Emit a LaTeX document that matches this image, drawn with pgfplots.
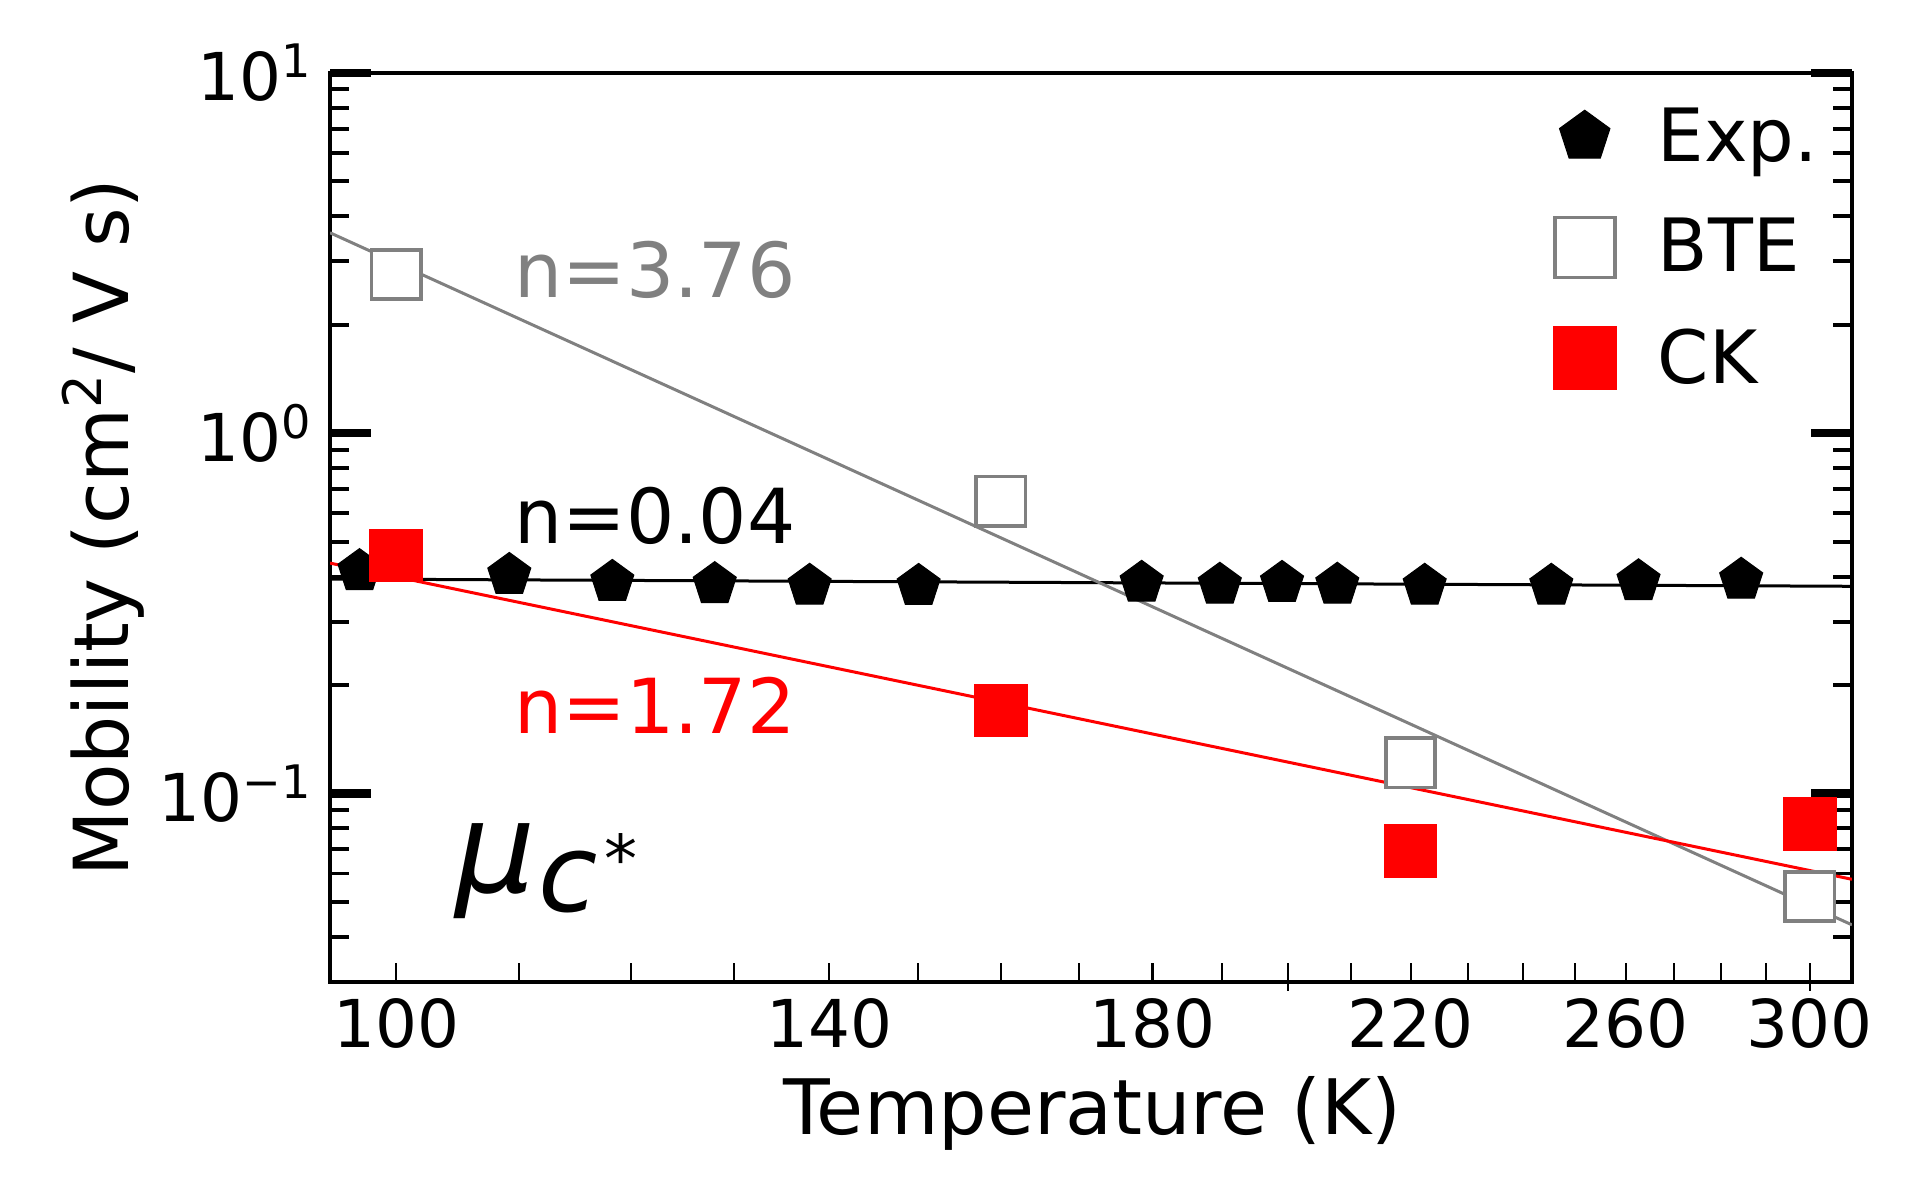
\documentclass[border=0pt]{standalone}
\usepackage{fontspec}
\setmainfont{DejaVu Sans}
\usepackage{pgfplots}
\usepackage{pgfplotstable}
\pgfplotsset{compat=1.18}
\newcommand\fs[1]{\fontsize{#1}{#1}\selectfont}

\pgfplotstableread{
T mu
97.2 0.414
109.2 0.404
118.3 0.3865
128.1 0.381
137.9 0.377
150.1 0.3767
178.5 0.3842
189.7 0.3795
199.1 0.384
207.8 0.3795
222.4 0.377
245.4 0.377
262.6 0.388
284.4 0.3918
}\expdata
\pgfplotstableread{
T mu
100 2.76
160 0.648
220 0.1216
300 0.0517
}\btedata
\pgfplotstableread{
T mu
100 0.457
160 0.170
220 0.0692
300 0.0822
}\ckdata

\begin{document}
\begin{tikzpicture}
\begin{axis}[
  xmode=log, ymode=log,
  scale only axis, width=507.3pt, height=303pt,
  xmin=95, xmax=310, ymin=0.03, ymax=10,
  xtick={100,140,180,220,260,300},
  xticklabels={100,140,180,220,260,300},
  minor xtick={100,110,120,130,140,150,160,170,180,190,200,210,220,230,240,250,260,270,280,290,300},
  ytick={0.1,1,10},
  yticklabels={10\textsuperscript{−1},10\textsuperscript{0},10\textsuperscript{1}},
  minor ytick={0.04,0.05,0.06,0.07,0.08,0.09,0.2,0.3,0.4,0.5,0.6,0.7,0.8,0.9,2,3,4,5,6,7,8,9},
  tick align=inside,
  xtick pos=left, ytick pos=both, yticklabel pos=left,
  major tick length=13.7pt, minor tick length=6.5pt,
  every tick/.append style={black},
  every major x tick/.append style={draw=none},
  every minor x tick/.append style={line width=0.7pt, black},
  every major y tick/.append style={line width=2.7pt, black},
  every minor y tick/.append style={line width=1.3pt, black},
  extra x ticks={200,300}, extra x tick labels={},
  extra x tick style={tick align=outside, major tick length=3pt,
     every major x tick/.style={line width=0.7pt, draw=black}},
  axis line style={line width=1.1pt, black},
  xticklabel style={font=\fs{22}, inner sep=0pt, yshift=-5.3pt},
  yticklabel style={font=\fs{22}, inner sep=0pt, xshift=-5.7pt},
  xlabel={Temperature (K)},
  xlabel style={font=\fs{25.5}, at={(axis description cs:0.501,-0.1683)}, anchor=base, inner sep=0pt},
  ylabel={Mobility (cm\textsuperscript{2}/ V s)},
  ylabel style={font=\fs{25.3}, at={(axis description cs:-0.1327,0.5)}, anchor=base, inner sep=0pt},
  legend style={draw=none, fill=none, at={(axis description cs:0.8035,0.9624)}, anchor=north west,
     font=\fs{24.5}, inner sep=0pt, nodes={inner sep=0pt},
     row sep={36.9pt,between origins},
     /tikz/every odd column/.append style={column sep=14pt}},
  legend cell align=left,
  legend image code/.code={\draw[#1] plot coordinates {(0pt,0pt)};},
]
\addlegendimage{only marks, mark=pentagon*, mark size=8.8pt, black, mark options={line width=0.4pt}}
\addlegendentry{Exp.}
\addlegendimage{only marks, mark=square*, mark size=10pt, mark options={draw=gray, fill=white, line width=1.2pt}}
\addlegendentry{BTE}
\addlegendimage{only marks, mark=square*, mark size=10.4pt, mark options={draw=red, fill=red, line width=0.4pt}}
\addlegendentry{CK}

\addplot[forget plot, only marks, mark=pentagon*, mark size=7.5pt, black, mark options={line width=0.4pt}] table[x=T,y=mu] {\expdata};
\addplot[forget plot, black, line width=1pt] coordinates {(95,0.394) (310,0.376)};
\addplot[forget plot, gray, line width=1pt] coordinates {(95,3.6) (310,0.0432)};
\addplot[forget plot, only marks, mark=square*, mark size=8.2pt, mark options={draw=gray, fill=white, line width=1.3pt}] table[x=T,y=mu] {\btedata};
\addplot[forget plot, only marks, mark=square*, mark size=8.7pt, mark options={draw=red, fill=red, line width=0.4pt}] table[x=T,y=mu] {\ckdata};
\addplot[forget plot, red, line width=1pt] coordinates {(95,0.436) (310,0.0578)};

\node[anchor=base west, inner sep=0pt, text=gray, font=\fs{25.3}] at (rel axis cs:0.121,0.7529) {n=3.76};
\node[anchor=base west, inner sep=0pt, text=black, font=\fs{25.3}] at (rel axis cs:0.121,0.4826) {n=0.04};
\node[anchor=base west, inner sep=0pt, text=red, font=\fs{25.3}] at (rel axis cs:0.121,0.2736) {n=1.72};
\node[anchor=base west, inner sep=0pt] at (rel axis cs:0.082,0.0979)
  {\fs{42}\itshape μ\kern1pt\raisebox{-6.3pt}{\fs{36}c}\kern2pt\raisebox{3.4pt}{\fs{22}\upshape *}};
\end{axis}
\pgfresetboundingbox
\path (-110pt,-72.7pt) rectangle (530pt,327.3pt);
\end{tikzpicture}
\end{document}
